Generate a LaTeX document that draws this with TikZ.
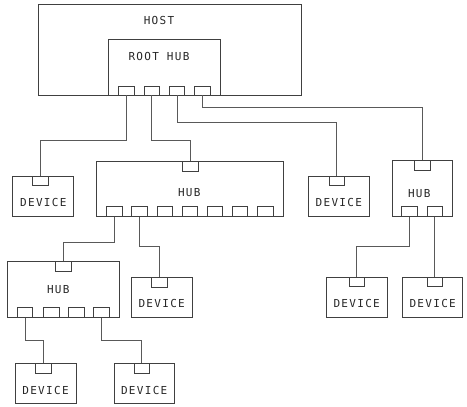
\documentclass[tikz,border=0pt]{standalone}
\usepackage{fontspec}
\newfontfamily\diagfont[LetterSpace=12]{DejaVu Sans Mono}
\begin{document}
\begin{tikzpicture}[x=1pt,y=-1pt,
  box/.style={draw=black!75,line width=0.75pt,inner sep=0pt,anchor=center},
  port/.style={draw=black!75,line width=0.75pt,inner sep=0pt,minimum width=15.6pt,minimum height=10pt,anchor=center},
  txt/.style={inner sep=0pt,anchor=center,font=\diagfont\fontsize{11}{11}\selectfont,text=black!85},
  wire/.style={draw=black!65,line width=0.75pt}]
\useasboundingbox (0,0) rectangle (467,407);
% host and root hub
\node[box,minimum width=263.4pt,minimum height=91pt] (host) at (170,49.5) {};
\node[box,minimum width=111.7pt,minimum height=55.7pt] (root) at (164.2,67.2) {};
\node[txt] (hosttxt) at (159,20.5) {HOST};
\node[txt] (roottxt) at (159,56) {ROOT HUB};
\foreach \i/\x in {1/126.5,2/151.7,3/176.9,4/202.1}
  \node[port,minimum height=9pt] (rp\i) at (\x,90.5) {};
% device 1
\node[box,minimum width=60.6pt,minimum height=40.7pt] (d1) at (43,196.3) {};
\node[port,minimum height=9pt] (d1p) at (40.5,180.5) {};
\node[txt] (d1t) at (43.3,202.3) {DEVICE};
% big hub
\node[box,minimum width=186.6pt,minimum height=55.7pt] (bh) at (190,188.8) {};
\node[port] (bhp) at (190.2,166) {};
\node[txt] (bht) at (189.3,192.7) {HUB};
\foreach \i in {1,...,7}
  \node[port] (bh\i) at ({114.5+25.1*(\i-1)},211.7) {};
% device 2
\node[box,minimum width=61pt,minimum height=40pt] (d2) at (338.8,196.3) {};
\node[port,minimum height=9pt] (d2p) at (336.7,181.2) {};
\node[txt] (d2t) at (338.8,202.3) {DEVICE};
% right hub
\node[box,minimum width=60pt,minimum height=56pt] (rh) at (422.3,188.7) {};
\node[port] (rhp) at (422.2,165.7) {};
\node[txt] (rht) at (419.3,193.3) {HUB};
\node[port] (rh1) at (409.5,211.7) {};
\node[port] (rh2) at (434.7,211.7) {};
% bottom right devices
\node[box,minimum width=61.3pt,minimum height=40pt] (d3) at (356.7,297.3) {};
\node[port,minimum height=9.4pt] (d3p) at (356.7,282) {};
\node[txt] (d3t) at (356.7,303.3) {DEVICE};
\node[box,minimum width=60pt,minimum height=40pt] (d4) at (432.7,297.3) {};
\node[port,minimum height=9.4pt] (d4p) at (434.7,282) {};
\node[txt] (d4t) at (432.7,303.3) {DEVICE};
% left hub
\node[box,minimum width=112pt,minimum height=55.6pt] (lh) at (63.3,289.5) {};
\node[port] (lhp) at (63.5,266.7) {};
\node[txt] (lht) at (58.3,289.3) {HUB};
\foreach \i/\x in {1/25,2/51.2,3/76.2,4/101.2}
  \node[port] (lh\i) at (\x,312.3) {};
% middle device
\node[box,minimum width=61pt,minimum height=39.6pt] (d5) at (162.2,297.5) {};
\node[port,minimum height=9.6pt] (d5p) at (159.5,282.5) {};
\node[txt] (d5t) at (161.7,303.3) {DEVICE};
% bottom left devices
\node[box,minimum width=61pt,minimum height=40pt] (d6) at (45.5,383.3) {};
\node[port] (d6p) at (43.2,368.3) {};
\node[txt] (d6t) at (45.5,390) {DEVICE};
\node[box,minimum width=60.3pt,minimum height=40pt] (d7) at (144.2,383.3) {};
\node[port] (d7p) at (141.8,368.3) {};
\node[txt] (d7t) at (144.2,390) {DEVICE};
% connectors
\draw[wire] (rp1.south) -- (rp1.south |- 0,140.7) -| (d1p.north);
\draw[wire] (rp2.south) -- (rp2.south |- 0,140) -| (bhp.north);
\draw[wire] (rp3.south) -- (rp3.south |- 0,122.7) -| (d2p.north);
\draw[wire] (rp4.south) -- (rp4.south |- 0,107.5) -| (rhp.north);
\draw[wire] (rh1.south) -- (rh1.south |- 0,246.7) -| (d3p.north);
\draw[wire] (rh2.south) -- (d4p.north);
\draw[wire] (bh1.south) -- (bh1.south |- 0,242.3) -| (lhp.north);
\draw[wire] (bh2.south) -- (bh2.south |- 0,246.7) -| (d5p.north);
\draw[wire] (lh1.south) -- (lh1.south |- 0,340) -| (d6p.north);
\draw[wire] (lh4.south) -- (lh4.south |- 0,340) -| (d7p.north);
\end{tikzpicture}
\end{document}
